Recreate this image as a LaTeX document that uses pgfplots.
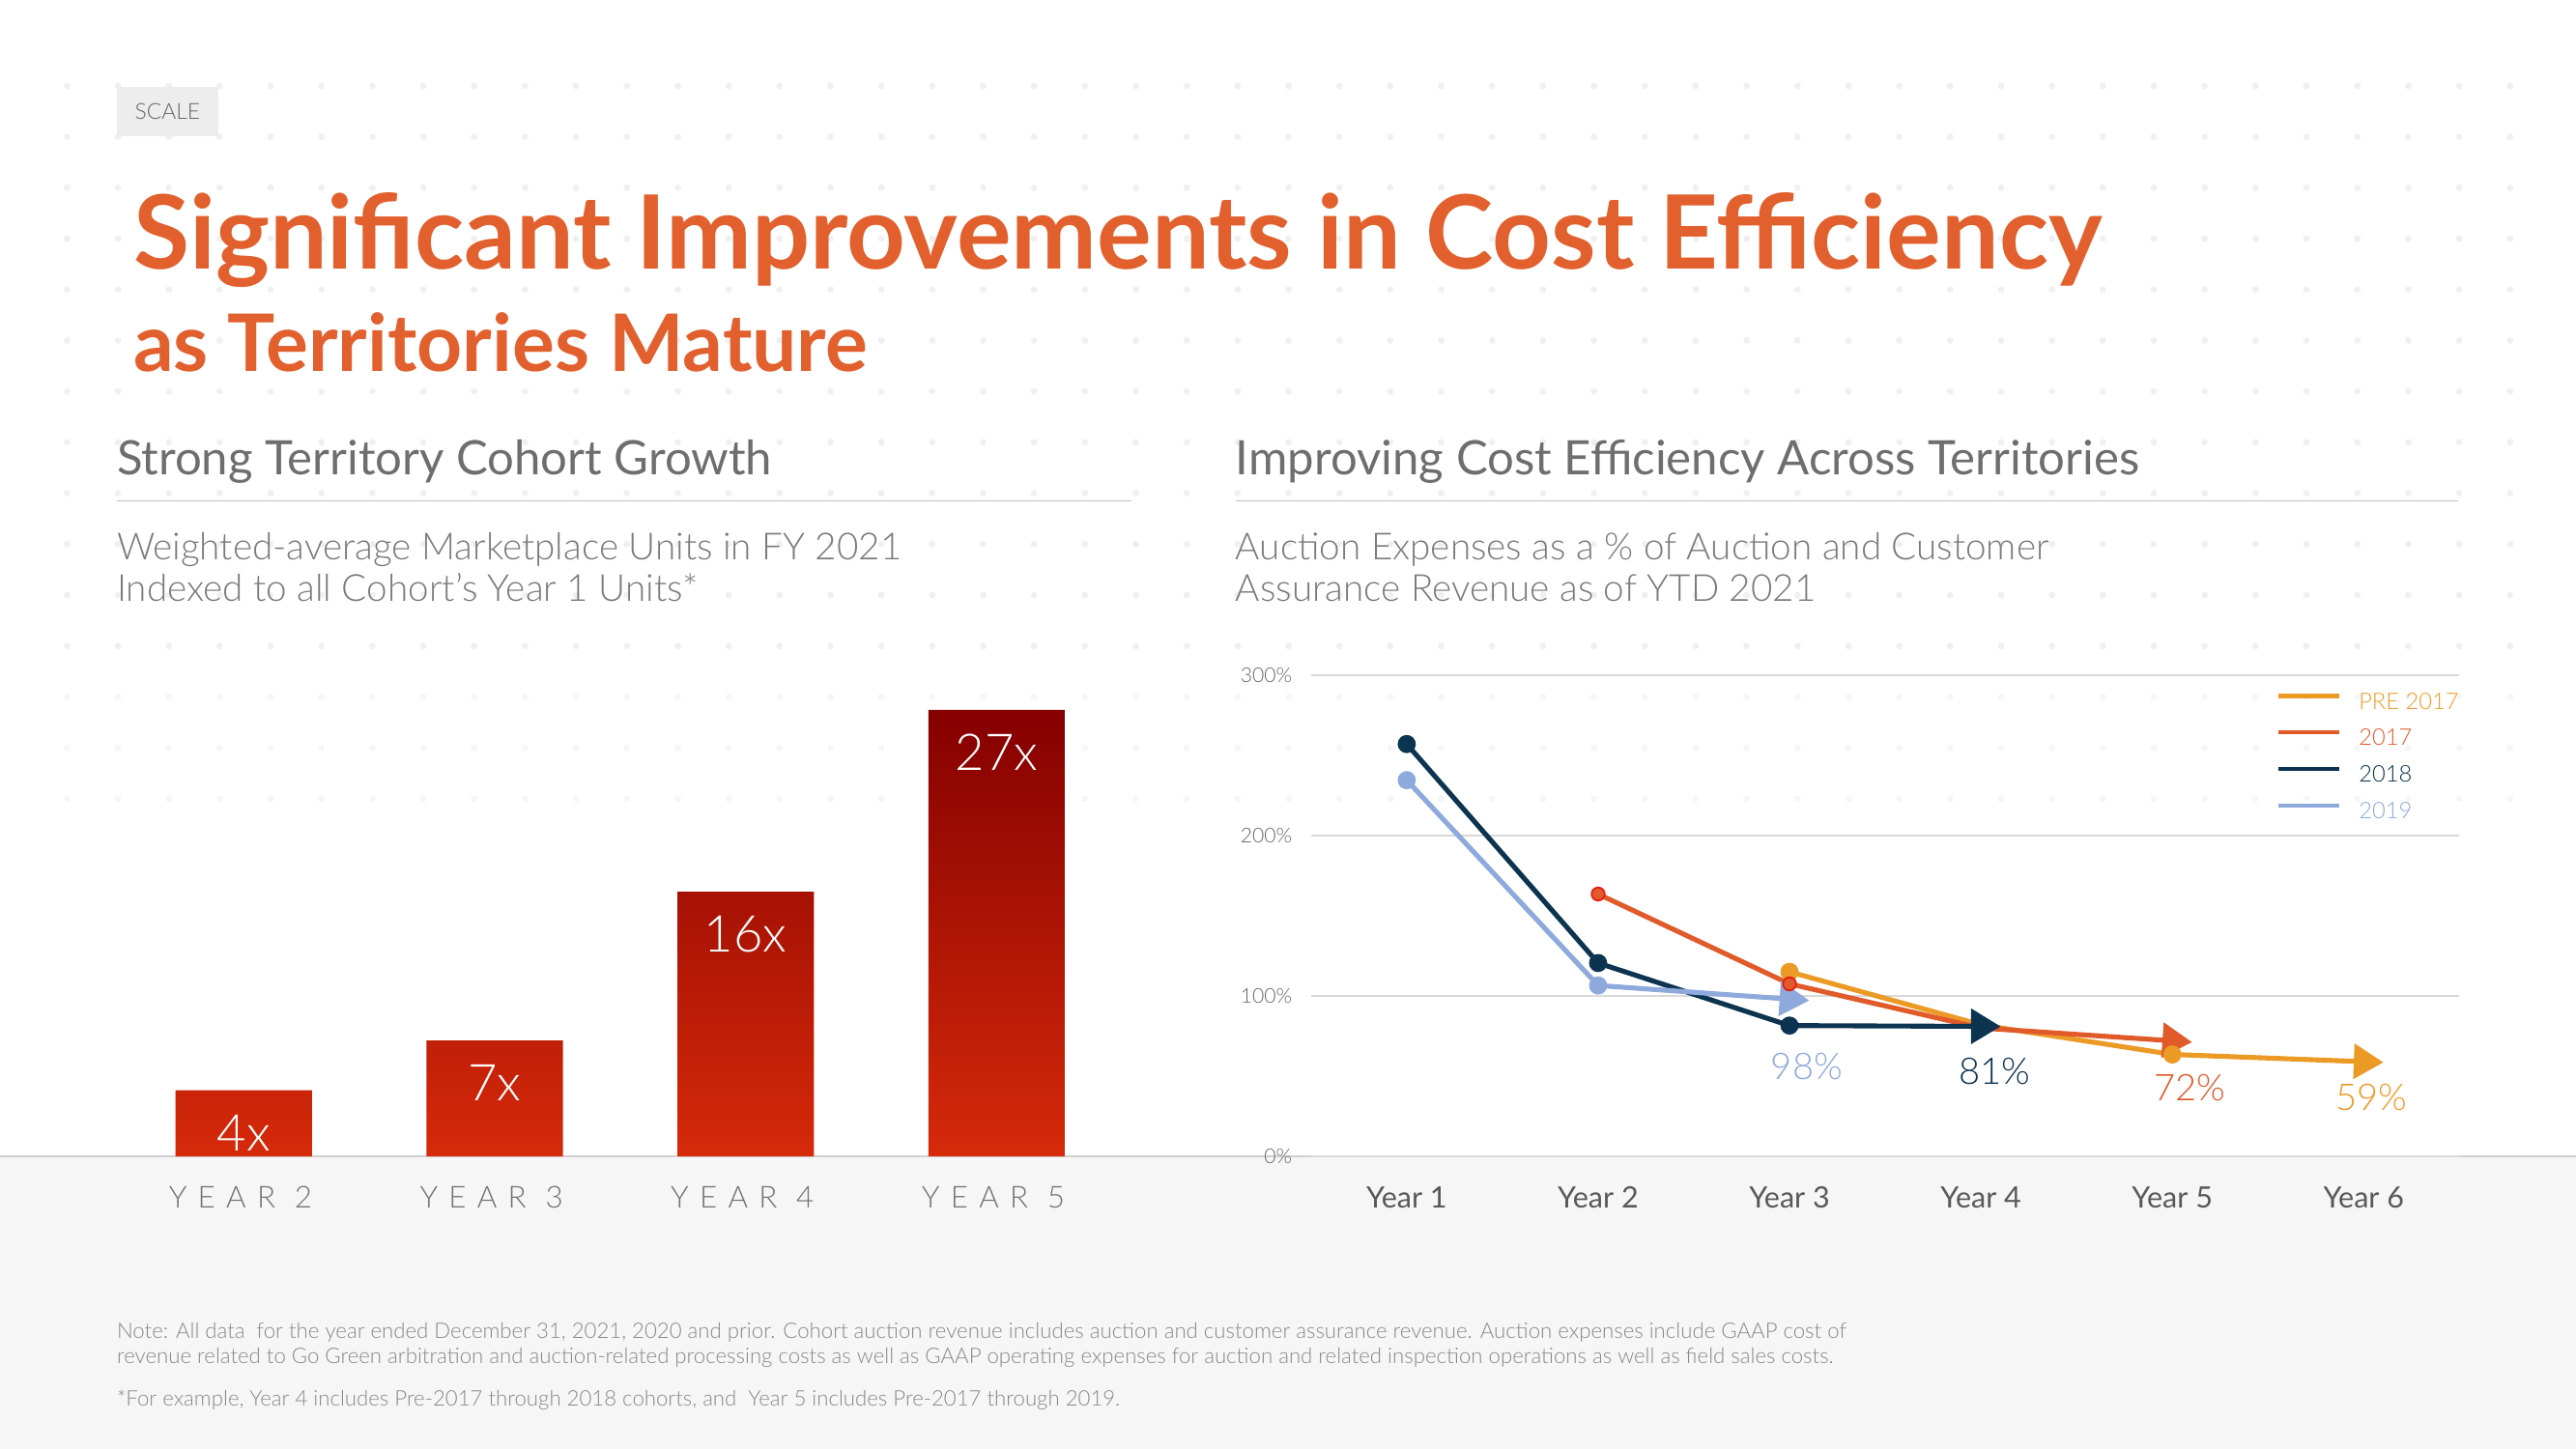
\documentclass[border=0pt]{standalone}
\usepackage{fontspec}
\setmainfont{Lato}
\IfFontExistsTF{Lato Light}{%
  \newfontfamily\lightfont{Lato Light}%
  \newfontfamily\spaced[LetterSpace=36]{Lato Light}}{%
  \newfontfamily\lightfont{Lato}%
  \newfontfamily\spaced[LetterSpace=36]{Lato}}
\usepackage{pgfplots}
\pgfplotsset{compat=1.18}
\usetikzlibrary{arrows.meta}
\definecolor{titleor}{HTML}{E2602D}
\definecolor{headgray}{HTML}{6E6E6E}
\definecolor{subgray}{HTML}{7A7A7A}
\definecolor{notegray}{HTML}{888888}
\definecolor{band}{HTML}{F6F6F6}
\definecolor{dotc}{HTML}{F0F0F0}
\definecolor{dotd}{HTML}{F6F6F6}
\definecolor{cpre}{HTML}{EC9A26}
\definecolor{cseventeen}{HTML}{E05A2A}
\definecolor{ceighteen}{HTML}{0C3450}
\definecolor{cnineteen}{HTML}{8EA9DB}
\definecolor{cmk}{HTML}{E8190F}
\definecolor{bartop}{HTML}{850000}
\definecolor{barbot}{HTML}{D62A0A}
\begin{document}
\begin{tikzpicture}[x=1bp,y=1bp]
\useasboundingbox (0,0) rectangle (1568,-882);
\fill[white] (0,0) rectangle (1568,-882);
% faint dot pattern (decoration)
\foreach \r in {0,...,11}{\foreach \c in {0,...,48}{\fill[dotc] (40.8+\c*30.98,-52.3-\r*31) circle (2);}}
\foreach \r in {12,...,14}{\foreach \c in {0,...,48}{\fill[dotd] (40.8+\c*30.98,-52.3-\r*31) circle (2);}}
\fill[band] (0,-704) rectangle (1568,-882);
\draw[black!18, line width=0.8bp] (0,-704) -- (1568,-704);
% tag
\fill[black!7] (71,-53) rectangle (133,-83);
\node[font=\lightfont\fontsize{13.5}{15}\selectfont, text=black!60] at (102,-68) {SCALE};
% titles
\node[anchor=base west, inner sep=0pt, font=\bfseries\fontsize{62.6}{70}\selectfont, text=titleor] at (81,-164) {Significant Improvements in Cost Efficiency};
\node[anchor=base west, inner sep=0pt, font=\bfseries\fontsize{48.5}{52}\selectfont, text=titleor] at (81,-226) {as Territories Mature};
% headings
\node[anchor=base west, inner sep=0pt, font=\fontsize{29}{32}\selectfont, text=headgray] at (71,-289) {Strong Territory Cohort Growth};
\node[anchor=base west, inner sep=0pt, font=\fontsize{29}{32}\selectfont, text=headgray] at (752,-289) {Improving Cost Efficiency Across Territories};
\draw[black!25, line width=1bp] (71,-305) -- (689,-305);
\draw[black!25, line width=1bp] (752,-305) -- (1496,-305);
\node[anchor=base west, inner sep=0pt, font=\lightfont\fontsize{22.8}{24}\selectfont, text=subgray] at (71,-341) {Weighted-average Marketplace Units in FY 2021};
\node[anchor=base west, inner sep=0pt, font=\lightfont\fontsize{22.8}{24}\selectfont, text=subgray] at (71,-366) {Indexed to all Cohort’s Year 1 Units*};
\node[anchor=base west, inner sep=0pt, font=\lightfont\fontsize{22.8}{24}\selectfont, text=subgray] at (752,-341) {Auction Expenses as a \% of Auction and Customer};
\node[anchor=base west, inner sep=0pt, font=\lightfont\fontsize{22.8}{24}\selectfont, text=subgray] at (752,-366) {Assurance Revenue as of YTD 2021};
% notes
\node[anchor=base west, inner sep=0pt, font=\lightfont\fontsize{13.1}{14}\selectfont, text=notegray] at (71,-815) {Note: All data\ \ for the year ended December 31, 2021, 2020 and prior. Cohort auction revenue includes auction and customer assurance revenue. Auction expenses include GAAP cost of};
\node[anchor=base west, inner sep=0pt, font=\lightfont\fontsize{13.1}{14}\selectfont, text=notegray] at (71,-830) {revenue related to Go Green arbitration and auction-related processing costs as well as GAAP operating expenses for auction and related inspection operations as well as field sales costs.};
\node[anchor=base west, inner sep=0pt, font=\lightfont\fontsize{13.1}{14}\selectfont, text=notegray] at (71,-856) {*For example, Year 4 includes Pre-2017 through 2018 cohorts, and\ \ Year 5 includes Pre-2017 through 2019.};

% bar chart
\begin{axis}[at={(72bp,-704bp)}, anchor=south west, scale only axis,
  width=611bp, height=302bp,
  xmin=-0.5, xmax=3.5, ymin=0, ymax=30, clip=false,
  axis line style={draw=none}, tick style={draw=none}, ytick=\empty,
  /pgf/number format/assume math mode=true,
  xtick={0,1,2,3}, xticklabels={YEAR 2,YEAR 3,YEAR 4,YEAR 5},
  xticklabel style={anchor=center, yshift=-25bp, xshift=-2bp, font=\spaced\fontsize{18.5}{20}\selectfont, text=black!55},
  ]
\addplot[ybar, bar width=83bp, draw=none, top color=bartop, bottom color=barbot,
  nodes near coords={\pgfmathprintnumber{\pgfplotspointmeta}x},
  nodes near coords align=center,
  every node near coord/.append style={yshift=-26bp, text=white, font=\lightfont\fontsize{31}{33}\selectfont}]
  coordinates {(0,4) (1,7) (2,16) (3,27)};
\end{axis}

% line chart
\begin{axis}[at={(798bp,-704bp)}, anchor=south west, scale only axis,
  width=699bp, height=293bp,
  xmin=0.5, xmax=6.5, ymin=0, ymax=300, clip=false,
  axis line style={draw=none}, tick style={draw=none},
  ytick={0,100,200,300}, yticklabel={\pgfmathprintnumber{\tick}\%},
  ymajorgrids, grid style={black!15, line width=1bp},
  /pgf/number format/assume math mode=true,
  yticklabel style={font=\lightfont\fontsize{12.5}{14}\selectfont, text=black!60, xshift=-8bp},
  xtick={1,2,3,4,5,6}, xticklabels={Year 1,Year 2,Year 3,Year 4,Year 5,Year 6},
  xticklabel style={anchor=center, yshift=-25bp, font=\fontsize{18}{20}\selectfont, text=black!65},
  legend style={at={(axis description cs:0.84,0.964)}, anchor=north west, draw=none, fill=none,
    inner sep=0pt, row sep=9.2bp, font=\lightfont\fontsize{14}{15}\selectfont,
    nodes={inner sep=0pt, text height=10bp, text depth=3bp}},
  legend cell align=left,
  legend image code/.code={\draw[#1, line width=2.5bp] (0bp,4.5bp) -- (37bp,4.5bp); \path (49bp,0bp);},
  ]
\addlegendimage{cpre}\addlegendentry{\textcolor{cpre}{PRE 2017}}
\addlegendimage{cseventeen}\addlegendentry{\textcolor{cseventeen}{2017}}
\addlegendimage{ceighteen}\addlegendentry{\textcolor{ceighteen}{2018}}
\addlegendimage{cnineteen}\addlegendentry{\textcolor{cnineteen}{2019}}
\addplot[forget plot, cpre, line width=3bp, -{Triangle[length=18bp,width=21bp]}, shorten >=-12bp,
  mark=*, mark size=4bp, mark indices={1,3}, mark options={solid}]
  coordinates {(3,115) (4,82) (5,63.5) (6,59)};
\addplot[forget plot, cseventeen, line width=3bp, -{Triangle[length=18bp,width=21bp]}, shorten >=-12bp,
  mark=*, mark size=4bp, mark indices={1,2}, mark options={draw=cmk, fill=cseventeen, line width=1bp}]
  coordinates {(2,163.5) (3,107.5) (4,80) (5,72)};
\addplot[forget plot, ceighteen, line width=3bp, -{Triangle[length=18bp,width=21bp]}, shorten >=-12bp,
  mark=*, mark size=4bp, mark indices={1,2,3}]
  coordinates {(1,257) (2,120.5) (3,81.5) (4,81)};
\addplot[forget plot, cnineteen, line width=3bp, -{Triangle[length=18bp,width=21bp]}, shorten >=-12bp,
  mark=*, mark size=4bp, mark indices={1,2}]
  coordinates {(1,234.5) (2,106.5) (3,98)};
\node[text=cnineteen, font=\lightfont\fontsize{22.5}{24}\selectfont] at (axis cs:3.09,56) {98\%};
\node[text=ceighteen, font=\lightfont\fontsize{22.5}{24}\selectfont] at (axis cs:4.07,53) {81\%};
\node[text=cseventeen, font=\lightfont\fontsize{22.5}{24}\selectfont] at (axis cs:5.09,43) {72\%};
\node[text=cpre, font=\lightfont\fontsize{22.5}{24}\selectfont] at (axis cs:6.04,37) {59\%};
\end{axis}
\end{tikzpicture}
\end{document}
